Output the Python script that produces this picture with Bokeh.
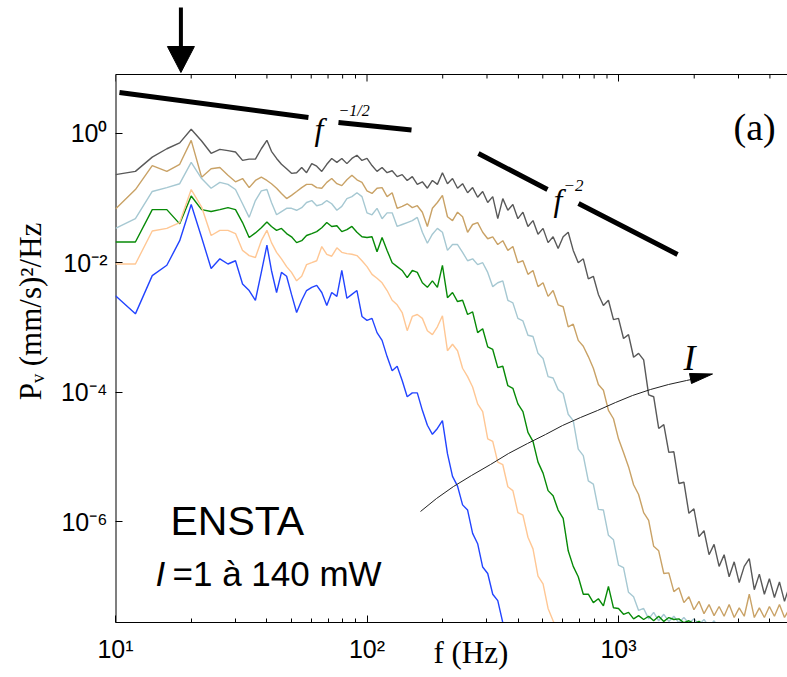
import math
import numpy as np
from bokeh.plotting import figure
from bokeh.models import Range1d, FixedTicker, Label, Span
from bokeh.embed import file_html
from bokeh.resources import INLINE

# ---------------- data ----------------
freq_hz = [10, 12, 14, 16, 18, 20, 22, 24, 26, 28, 30, 32, 34, 36, 38, 40,
           41.7, 43.7, 45.7, 47.9, 50.1, 52.5, 55.0, 57.5, 60.3, 63.1,
           66.1, 69.2, 72.4, 75.9, 79.4, 83.2, 87.1, 91.2, 95.5, 100,
           104.7, 109.6, 114.8, 120.2, 125.9, 131.8, 138.0, 144.5, 151.4, 158.5,
           166.0, 173.8, 182.0, 190.5, 199.5, 208.9, 218.8, 229.1, 239.9, 251.2,
           263.0, 275.4, 288.4, 302.0, 316.2, 331.1, 346.7, 363.1, 380.2, 398.1,
           416.9, 436.5, 457.1, 478.6, 501.2, 524.8, 549.5, 575.4, 602.6, 631.0,
           660.7, 691.8, 724.4, 758.6, 794.3, 831.8, 871.0, 912.0, 955.0, 1000,
           1047, 1096, 1148, 1202, 1259, 1318, 1380, 1445, 1514, 1585,
           1660, 1738, 1820, 1905, 1995, 2089, 2188, 2291, 2399, 2512,
           2630, 2754, 2884, 3020, 3162, 3311, 3467, 3631, 3802, 3981,
           4169, 4365, 4571, 4786]

# log10 of P_v in (mm/s)^2/Hz, one list per laser intensity (highest first)
log10_psd_140mw = [-0.64, -0.59, -0.37, -0.24, -0.15, 0.06, -0.12, -0.31, -0.25, -0.27, -0.29, -0.42, -0.40, -0.40, -0.24, -0.11,
    -0.28, -0.39, -0.48, -0.55, -0.62, -0.61, -0.53, -0.61, -0.47, -0.51, -0.59, -0.48, -0.39, -0.45, -0.39, -0.47, -0.39, -0.34, -0.42, -0.39,
    -0.50, -0.59, -0.53, -0.61, -0.58, -0.67, -0.64, -0.73, -0.67, -0.79, -0.75, -0.85, -0.73, -0.79, -0.61, -0.78, -0.70, -0.85, -0.78, -0.92,
    -0.84, -0.99, -0.90, -1.07, -0.98, -1.32, -1.01, -1.19, -1.10, -1.32, -1.22, -1.44, -1.35, -1.56, -1.47, -1.69, -1.60, -1.78, -1.60, -1.53,
    -1.81, -2.00, -1.94, -2.25, -2.21, -2.49, -2.66, -2.58, -2.88, -2.86, -3.17, -3.11, -3.46, -3.40, -3.50, -4.04, -4.07, -4.56, -4.50, -4.93,
    -4.92, -5.41, -5.39, -5.87, -5.80, -6.23, -6.14, -6.51, -6.35, -6.69, -6.51, -6.85, -6.62, -6.94, -6.69, -6.57, -7.05, -6.81, -7.12, -6.88,
    -7.17, -6.93, -7.23, -6.99]

log10_psd_high = [-1.17, -0.87, -0.50, -0.59, -0.48, -0.11, -0.68, -0.55, -0.53, -0.65, -0.75, -0.70, -0.84, -0.73, -0.68, -0.73,
    -0.78, -0.85, -0.93, -1.01, -0.96, -0.90, -0.84, -0.79, -0.79, -0.84, -0.85, -0.76, -0.70, -0.78, -0.81, -0.72, -0.65, -0.72, -0.76, -0.89,
    -0.93, -0.85, -0.84, -0.98, -0.92, -1.16, -1.13, -1.09, -1.15, -1.12, -1.22, -1.44, -1.16, -1.07, -0.96, -1.29, -1.35, -1.22, -1.29, -1.53,
    -1.41, -1.38, -1.53, -1.63, -1.60, -1.72, -1.66, -1.81, -1.75, -2.00, -1.97, -2.18, -2.12, -2.37, -2.31, -2.52, -2.43, -2.65, -2.68, -2.99,
    -2.95, -3.20, -3.29, -3.45, -3.63, -3.88, -3.97, -4.28, -4.41, -4.72, -4.93, -5.15, -5.43, -5.58, -5.86, -5.98, -6.38, -6.45, -6.80, -6.79,
    -7.08, -7.02, -7.25, -7.16, -7.36, -7.23, -7.42, -7.28, -7.45, -7.31, -7.46, -7.28, -7.48, -7.33, -7.46, -7.12, -7.48, -7.33, -7.48, -7.31,
    -7.46, -7.28, -7.48, -7.34]

log10_psd_midhigh = [-1.47, -1.32, -0.90, -0.84, -0.78, -0.45, -0.70, -0.85, -0.76, -0.79, -0.87, -1.09, -1.30, -1.04, -0.89, -0.87,
    -1.07, -1.26, -1.21, -1.16, -1.16, -1.19, -1.15, -1.07, -1.04, -1.12, -1.10, -1.04, -1.09, -1.19, -1.13, -1.01, -0.98, -0.92, -0.98, -1.23,
    -1.26, -1.16, -1.32, -1.23, -1.23, -1.44, -1.41, -1.38, -1.35, -1.30, -1.53, -1.70, -1.56, -1.47, -1.53, -1.81, -1.72, -1.72, -1.84, -1.97,
    -1.94, -2.03, -2.00, -2.15, -2.37, -2.31, -2.28, -2.58, -2.62, -2.86, -2.90, -3.12, -3.14, -3.40, -3.48, -3.76, -3.78, -3.96, -4.02, -4.34,
    -4.44, -4.88, -4.98, -5.37, -5.42, -5.81, -5.82, -6.21, -6.28, -6.67, -6.71, -7.09, -7.16, -7.37, -7.34, -7.50, -7.40, -7.53, -7.43, -7.54,
    -7.46, -7.56, -7.48, -7.57, -7.50, -7.59, -7.51, -7.62, -7.53, -7.65, -7.68]

log10_psd_mid = [-1.68, -1.68, -1.18, -1.18, -1.40, -0.97, -1.18, -1.21, -1.18, -1.15, -1.18, -1.38, -1.61, -1.54, -1.46, -1.37,
    -1.44, -1.50, -1.47, -1.55, -1.60, -1.69, -1.66, -1.58, -1.55, -1.52, -1.46, -1.38, -1.44, -1.43, -1.52, -1.49, -1.44, -1.53, -1.60, -1.61,
    -1.60, -1.83, -1.61, -1.81, -2.00, -2.06, -2.12, -2.23, -2.12, -2.15, -2.31, -2.38, -2.28, -2.38, -2.04, -2.54, -2.46, -2.60, -2.58, -2.80,
    -2.76, -3.08, -3.02, -3.30, -3.34, -3.62, -3.60, -3.90, -3.94, -4.18, -4.30, -4.62, -4.76, -5.08, -5.25, -5.52, -5.60, -5.82, -5.95, -6.45,
    -6.69, -6.85, -7.12, -7.12, -7.25, -7.19, -7.30, -7.00, -7.33, -7.34, -7.43, -7.40, -7.50, -7.45, -7.51, -7.46, -7.53, -7.46, -7.54, -7.48,
    -7.51, -7.50, -7.56, -7.53, -7.57, -7.54, -7.59, -7.65, -7.71]

log10_psd_low = [-2.02, -2.02, -1.51, -1.47, -1.38, -0.87, -1.14, -1.58, -1.50, -1.50, -1.55, -1.81, -1.89, -1.92, -1.66, -1.50,
    -1.69, -1.84, -1.94, -2.06, -2.15, -2.28, -2.21, -2.03, -2.00, -1.97, -1.75, -1.87, -1.90, -1.77, -1.84, -1.86, -1.87, -1.89, -1.97, -2.06,
    -2.18, -2.24, -2.31, -2.43, -2.58, -2.65, -2.77, -3.05, -2.83, -2.80, -2.86, -3.05, -3.11, -2.99, -2.82, -3.36, -3.26, -3.36, -3.63, -3.76,
    -3.92, -4.18, -4.30, -4.72, -4.76, -5.08, -5.12, -5.46, -5.52, -5.86, -5.90, -6.24, -6.42, -6.84, -6.96, -7.34, -7.53, -7.71]

log10_psd_1mw = [-2.51, -2.79, -2.20, -2.04, -1.66, -1.10, -1.61, -2.09, -1.94, -2.02, -1.97, -2.33, -2.43, -2.58, -2.15, -1.73,
    -2.12, -2.46, -2.15, -2.21, -2.49, -2.77, -2.58, -2.43, -2.38, -2.35, -2.46, -2.66, -2.46, -2.52, -2.12, -2.55, -2.49, -2.43, -2.83, -2.89,
    -2.86, -3.08, -3.20, -3.45, -3.67, -3.60, -3.82, -4.07, -4.01, -4.01, -4.28, -4.51, -4.65, -4.56, -4.44, -4.95, -5.30, -5.45, -5.74, -5.82,
    -6.18, -6.34, -6.70, -6.80, -7.12, -7.22, -7.56, -7.71]

series_colors = ["#595959", "#c9a266", "#a6c8d2", "#078a07", "#ffc794", "#2244ff"]

# power-law guide lines (NaN = gap for the label)
guide_half_f = [10.37, 58.5, float("nan"), 77.0, 150.3]
guide_half_p = [4.25, 1.748, float("nan"), 1.463, 1.12]
guide_two_f = [277.3, 522.1, float("nan"), 693.4, 1717]
guide_two_p = [0.486, 0.135, float("nan"), 0.0821, 0.0134]

# marked frequency (arrow above the plot)
marked_freq_hz = 18.2

x_major_ticks = [10, 100, 1000]
x_minor_ticks = [20, 30, 40, 50, 60, 70, 80, 90, 200, 300, 400, 500, 600, 700, 800, 900, 2000, 3000, 4000]
x_tick_labels = ["10\u00b9", "10\u00b2", "10\u00b3"]
y_major_ticks = [1, 1e-2, 1e-4, 1e-6]
y_tick_labels = ["10\u2070", "10\u207b\u00b2", "10\u207b\u2074", "10\u207b\u2076"]

# ---------------- layout (page pixels) ----------------
W, H = 787, 677
FRAME_L, FRAME_R, BOX_T, FRAME_B = 115, 787, 74, 622
PX_DEC_X = 251.5
PX_DEC_Y = 64.75
Y_ONE_PX = 132.7


def dx(px):
    return 10 ** (1 + (px - FRAME_L) / PX_DEC_X)


def dy(py):
    return 10 ** ((Y_ONE_PX - py) / PX_DEC_Y)


def pxx(f):
    return FRAME_L + PX_DEC_X * (math.log10(f) - 1)


# the data frame reaches the top of the canvas so the arrow above the box can be drawn;
# the visible box top (with its ticks) is drawn at BOX_T
p = figure(width=W, height=H, x_axis_type="log", y_axis_type="log",
           x_range=Range1d(dx(FRAME_L), dx(FRAME_R)),
           y_range=Range1d(dy(FRAME_B), dy(0)),
           output_backend="svg", toolbar_location=None,
           min_border_left=FRAME_L, min_border_right=W - FRAME_R,
           min_border_top=0, min_border_bottom=H - FRAME_B)
p.outline_line_color = None
p.grid.visible = False
p.background_fill_color = "white"
p.border_fill_color = "white"

SANS = "Liberation Sans"
SERIF = "Liberation Serif"

xa = p.xaxis[0]
xa.ticker = FixedTicker(ticks=x_major_ticks, minor_ticks=x_minor_ticks)
xa.major_label_overrides = dict(zip(x_major_ticks, x_tick_labels))
ya = p.yaxis[0]
ya.ticker = FixedTicker(ticks=y_major_ticks, minor_ticks=[])
ya.major_label_overrides = dict(zip(y_major_ticks, y_tick_labels))
for ax in (xa, ya):
    ax.major_tick_in = 7
    ax.major_tick_out = 0
    ax.minor_tick_in = 4
    ax.minor_tick_out = 0
    ax.major_tick_line_color = "black"
    ax.minor_tick_line_color = "black"
    ax.major_label_text_font = SANS
    ax.major_label_text_font_size = "25px"
    ax.major_label_text_color = "black"
    ax.axis_label_text_font = SERIF
    ax.axis_label_text_font_size = "31px"
    ax.axis_label_text_font_style = "normal"
    ax.axis_label_text_color = "black"
xa.axis_line_color = "black"
xa.major_label_standoff = 12
xa.axis_label = "\u2003 f (Hz)"
xa.axis_label_standoff = -31
ya.axis_line_color = None
ya.major_label_standoff = 8
ya.axis_label = "P\u1d65 (mm/s)\u00b2/Hz"
ya.axis_label_standoff = 10

# box: left edge and top edge with inward ticks
p.segment(x0=[x_major_ticks[0]], y0=[dy(FRAME_B)], x1=[x_major_ticks[0]], y1=[dy(BOX_T)],
          line_color="black", line_width=2)
p.add_layout(Span(location=dy(BOX_T), dimension="width", line_color="black", line_width=1))
p.segment(x0=x_major_ticks, y0=[dy(BOX_T)] * len(x_major_ticks),
          x1=x_major_ticks, y1=[dy(BOX_T + 7)] * len(x_major_ticks), line_color="black", line_width=1)
p.segment(x0=x_minor_ticks, y0=[dy(BOX_T)] * len(x_minor_ticks),
          x1=x_minor_ticks, y1=[dy(BOX_T + 4)] * len(x_minor_ticks), line_color="black", line_width=1)

# ---------------- spectra ----------------
all_series = [log10_psd_140mw, log10_psd_high, log10_psd_midhigh,
              log10_psd_mid, log10_psd_low, log10_psd_1mw]
for vals, col in zip(all_series, series_colors):
    p.line(freq_hz[:len(vals)], list(10 ** np.array(vals)), line_color=col, line_width=1.4)

# guide lines
p.line(guide_half_f, guide_half_p, line_color="black", line_width=5)
p.line(guide_two_f, guide_two_p, line_color="black", line_width=5)

# curved arrow "I"
curve_px = [(420, 511), (436, 498), (453, 486), (471, 475), (490, 464), (508, 453), (527, 443),
            (545, 434), (562, 425), (580, 417), (597, 410), (615, 402), (632, 395), (650, 389),
            (668, 384), (686, 380), (700, 377)]
p.line([dx(a) for a, b in curve_px], [dy(b) for a, b in curve_px], line_color="#222222", line_width=1)
head_px = [(712, 373.5), (689, 373.0), (691, 383.0)]
p.patch([dx(a) for a, b in head_px], [dy(b) for a, b in head_px], fill_color="black", line_color="black")

# down arrow above the box, at the marked frequency
ax_px = pxx(marked_freq_hz)
p.segment(x0=[marked_freq_hz], y0=[dy(7)], x1=[marked_freq_hz], y1=[dy(50)], line_color="black", line_width=4)
p.patch([dx(ax_px - 13.5), dx(ax_px + 13.5), marked_freq_hz], [dy(46), dy(46), dy(72)],
        fill_color="black", line_color="black")


def lab(px, py, text, size, font=SANS, style="normal"):
    p.add_layout(Label(x=dx(px), y=dy(py), text=text, text_font=font,
                       text_font_size=f"{size}px", text_font_style=style,
                       text_align="left", text_baseline="alphabetic", text_color="black"))


# annotations
lab(314, 128, "f", 32, SERIF, "italic")
lab(338, 110, "\u22121/2", 16, SERIF, "italic")
lab(553, 199, "f", 32, SERIF, "italic")
lab(563, 185, "\u22122", 17, SERIF, "italic")
lab(733, 126, "(a)", 38, SERIF)
lab(683, 357, "I", 36, SERIF, "italic")
lab(170, 520, "ENSTA", 41)
lab(155, 573, "I", 35, SANS, "italic")
lab(172, 573, "=1 \u00e0 140 mW", 35)

open("out.html", "w").write(file_html(p, INLINE))
